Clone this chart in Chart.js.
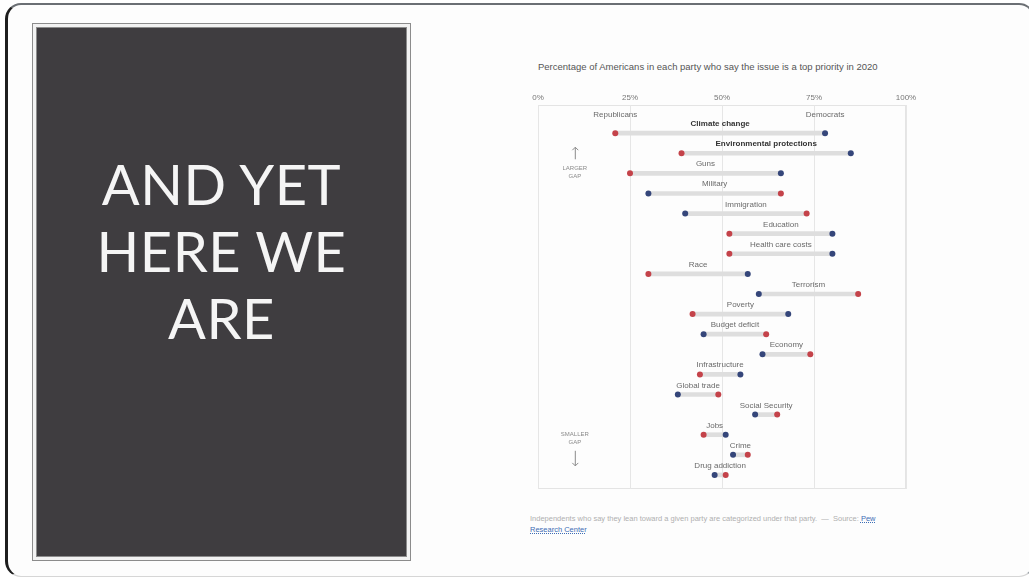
<!DOCTYPE html>
<html>
<head>
<meta charset="utf-8">
<script src="https://cdn.jsdelivr.net/npm/chart.js@4"></script>
<style>
  html, body { margin: 0; padding: 0; background: #fff; }
  body { width: 1029px; height: 581px; position: relative; overflow: hidden; font-family: "Liberation Sans", Arial, sans-serif; }
  .card { position: absolute; left: 5px; top: 3px; width: 1030px; height: 574px; box-sizing: border-box;
          border-top: 2px solid #6b6f74; border-left: 3px solid #1e1e1e; border-bottom: 1px solid #d6d6d6; border-right: 2px solid #9aa0a6;
          border-radius: 16px; background: #fdfdfd; }
  .slide { position: absolute; left: 32px; top: 23px; width: 379px; height: 538px; box-sizing: border-box;
           border: 1px solid #8c8c8c; background: #f2f2f2; padding: 3px; }
  .slide .inner { width: 100%; height: 100%; box-sizing: border-box; border: 1px solid #8c8c8c; background: #3f3d40;
                  color: #f5f5f5; font-family: Lato, "Open Sans", sans-serif; font-size: 56px; line-height: 67px;
                  text-align: center; padding-top: 122px; letter-spacing: 0.5px; }
  .title { position: absolute; left: 538px; top: 61px; font-size: 9.5px; color: #555; white-space: nowrap; }
  .foot { position: absolute; left: 530px; top: 513px; width: 372px; font-size: 7.5px; line-height: 11px; color: #b0b0b0; }
  .foot a { color: #3d6db5; text-decoration: underline dotted; }
  #wrap { position: absolute; left: 520px; top: 80px; width: 410px; height: 415px; }
</style>
</head>
<body>
<div class="card"></div>
<div class="slide"><div class="inner">AND YET<br>HERE WE<br>ARE</div></div>
<div class="title">Percentage of Americans in each party who say the issue is a top priority in 2020</div>
<div id="wrap"><canvas id="chart"></canvas></div>
<div class="foot">Independents who say they lean toward a given party are categorized under that party. &nbsp;&mdash;&nbsp; Source: <a>Pew Research Center</a></div>
<script>
const issues = ['Climate change', 'Environmental protections', 'Guns', 'Military', 'Immigration', 'Education',
    'Health care costs', 'Race', 'Terrorism', 'Poverty', 'Budget deficit', 'Economy', 'Infrastructure',
    'Global trade', 'Social Security', 'Jobs', 'Crime', 'Drug addiction'];
const republicans = [21, 39, 25, 66, 73, 52, 52, 30, 87, 42, 62, 74, 44, 49, 65, 45, 57, 51];
const democrats = [78, 85, 66, 30, 40, 80, 80, 57, 60, 68, 45, 61, 55, 38, 59, 51, 53, 48];
const xTickLabels = ['0%', '25%', '50%', '75%', '100%'];
const highlighted = ['Climate change', 'Environmental protections'];

const RED = '#c4434a';
const BLUE = '#35467a';

// labels above each dumbbell, frame, and gap annotations
const labelPlugin = {
    id: 'dumbbellLabels',
    beforeDraw(chart) {
        const a = chart.chartArea;
        const ctx = chart.ctx;
        ctx.save();
        ctx.strokeStyle = '#e4e4e4';
        ctx.lineWidth = 1;
        ctx.strokeRect(a.left + 0.5, a.top + 0.5, a.right - a.left - 1, a.bottom - a.top - 1);
        ctx.restore();
    },
    afterDatasetsDraw(chart) {
        const ctx = chart.ctx;
        const xs = chart.scales.x;
        const ys = chart.scales.y;
        ctx.save();
        ctx.textAlign = 'center';
        ctx.textBaseline = 'alphabetic';
        issues.forEach((name, i) => {
            const mid = (republicans[i] + democrats[i]) / 2;
            const bold = highlighted.includes(name);
            ctx.font = (bold ? 'bold ' : '') + '8px "Liberation Sans", Arial, sans-serif';
            ctx.fillStyle = bold ? '#333' : '#6a6a6a';
            ctx.fillText(name, xs.getPixelForValue(mid), ys.getPixelForValue(i) - 7);
        });
        ctx.font = '8px "Liberation Sans", Arial, sans-serif';
        ctx.fillStyle = '#6a6a6a';
        ctx.fillText('Republicans', xs.getPixelForValue(republicans[0]), ys.getPixelForValue(-0.78));
        ctx.fillText('Democrats', xs.getPixelForValue(democrats[0]), ys.getPixelForValue(-0.78));

        // gap annotations
        const ax = xs.getPixelForValue(10);
        ctx.font = '6px "Liberation Sans", Arial, sans-serif';
        ctx.fillStyle = '#8a8a8a';
        ctx.fillText('LARGER', ax, ys.getPixelForValue(1.85));
        ctx.fillText('GAP', ax, ys.getPixelForValue(2.25));
        ctx.fillText('SMALLER', ax, ys.getPixelForValue(15.05));
        ctx.fillText('GAP', ax, ys.getPixelForValue(15.45));
        ctx.strokeStyle = '#8a8a8a';
        ctx.lineWidth = 1;
        const arrow = (y0, y1) => {
            const dir = y1 < y0 ? 1 : -1;
            ctx.beginPath();
            ctx.moveTo(ax + 0.5, y0);
            ctx.lineTo(ax + 0.5, y1);
            ctx.moveTo(ax - 2.5, y1 + 3 * dir);
            ctx.lineTo(ax + 0.5, y1);
            ctx.lineTo(ax + 3.5, y1 + 3 * dir);
            ctx.stroke();
        };
        arrow(ys.getPixelForValue(1.3), ys.getPixelForValue(0.7));
        arrow(ys.getPixelForValue(15.8), ys.getPixelForValue(16.55));
        ctx.restore();
    }
};

const data = {
    datasets: [{
        type: 'scatter',
        label: 'Republicans',
        data: issues.map((n, i) => ({ x: republicans[i], y: i })),
        backgroundColor: RED,
        borderWidth: 0,
        pointRadius: 3,
        order: 1
    }, {
        type: 'scatter',
        label: 'Democrats',
        data: issues.map((n, i) => ({ x: democrats[i], y: i })),
        backgroundColor: BLUE,
        borderWidth: 0,
        pointRadius: 3,
        order: 1
    }, {
        type: 'bar',
        label: 'Gap',
        indexAxis: 'y',
        data: issues.map((n, i) => ({ x: [Math.min(republicans[i], democrats[i]), Math.max(republicans[i], democrats[i])], y: i })),
        backgroundColor: '#dedede',
        barThickness: 4,
        order: 2
    }]
};

const config = {
    type: 'scatter',
    data: data,
    options: {
        responsive: true,
        maintainAspectRatio: false,
        animation: false,
        layout: { padding: { left: 18, right: 24, top: 11, bottom: 6 } },
        scales: {
            x: {
                type: 'linear',
                position: 'top',
                min: 0,
                max: 100,
                grid: { color: '#e6e6e6', drawTicks: false },
                border: { display: false },
                ticks: {
                    stepSize: 25,
                    padding: 2,
                    color: '#777',
                    font: { size: 8, family: '"Liberation Sans", Arial, sans-serif' },
                    callback: (v) => xTickLabels[v / 25]
                },
                afterFit: (scale) => { scale.height = 14; }
            },
            y: {
                type: 'linear',
                min: -1.4,
                max: 17.7,
                reverse: true,
                offset: false,
                display: false
            }
        },
        plugins: {
            legend: { display: false },
            tooltip: { enabled: false }
        }
    },
    plugins: [labelPlugin]
};

var myChart = new Chart(document.getElementById('chart').getContext('2d'), config);
</script>
</body>
</html>
